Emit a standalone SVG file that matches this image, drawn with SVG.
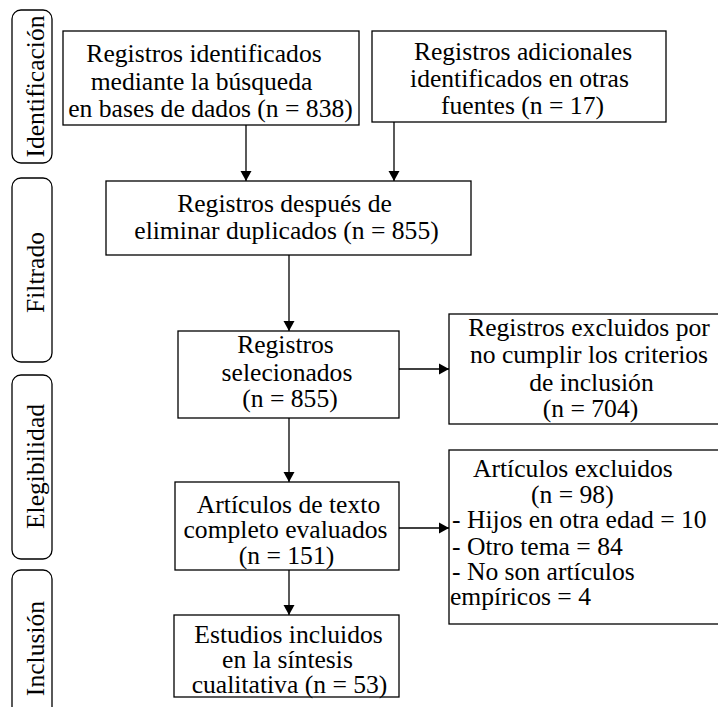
<svg xmlns="http://www.w3.org/2000/svg" width="718" height="707" viewBox="0 0 718 707">
<style>
.bx{fill:#fff;stroke:#000;stroke-width:1.3}
.pill{fill:#fff;stroke:#000;stroke-width:1.3}
text{font-family:'Liberation Serif','DejaVu Serif',serif;font-size:25.6px;fill:#000}
.m{text-anchor:middle}
.c{stroke:#000;stroke-width:1.3;fill:none}
</style>
<defs>
<marker id="ah" markerUnits="userSpaceOnUse" markerWidth="12" markerHeight="12" viewBox="0 0 12 12" refX="11" refY="6" orient="auto">
<path d="M1,0.5 L11,6 L1,11.5 Z" fill="#000"/>
</marker>
</defs>
<rect width="718" height="707" fill="#fff"/>
<g font-family="'Liberation Serif','DejaVu Serif',serif">
<g id="stage-identificacion">
<rect class="pill" x="12" y="10" width="40" height="153" rx="9"/>
<text class="m" transform="translate(44,86.5) rotate(-90)">Identificación</text>
</g>
<g id="stage-filtrado">
<rect class="pill" x="12" y="178" width="40" height="184" rx="9"/>
<text class="m" transform="translate(44,272.5) rotate(-90)">Filtrado</text>
</g>
<g id="stage-elegibilidad">
<rect class="pill" x="12" y="375" width="40" height="184" rx="9"/>
<text class="m" transform="translate(44,466.5) rotate(-90)">Elegibilidad</text>
</g>
<g id="stage-inclusion">
<rect class="pill" x="12" y="570" width="40" height="160" rx="9"/>
<text class="m" transform="translate(44,648.5) rotate(-90)">Inclusión</text>
</g>
<g id="connectors">
<line class="c" x1="246" y1="125" x2="246" y2="181" marker-end="url(#ah)"/>
<line class="c" x1="394" y1="122" x2="394" y2="181" marker-end="url(#ah)"/>
<line class="c" x1="289" y1="255" x2="289" y2="331" marker-end="url(#ah)"/>
<line class="c" x1="399" y1="369" x2="449" y2="369" marker-end="url(#ah)"/>
<line class="c" x1="289" y1="418" x2="289" y2="482" marker-end="url(#ah)"/>
<line class="c" x1="399" y1="528" x2="449" y2="528" marker-end="url(#ah)"/>
<line class="c" x1="289" y1="570" x2="289" y2="615" marker-end="url(#ah)"/>
</g>
<g id="n1">
<rect class="bx" x="63" y="31" width="296" height="94"/>
<text class="m" x="204" y="62">Registros identificados</text>
<text class="m" x="201.5" y="89.5">mediante la búsqueda</text>
<text class="m" x="210.5" y="116.5">en bases de dados (n = 838)</text>
</g>
<g id="n2">
<rect class="bx" x="372" y="31" width="294" height="91"/>
<text class="m" x="523" y="60">Registros adicionales</text>
<text class="m" x="519.5" y="87">identificados en otras</text>
<text class="m" x="522.5" y="114">fuentes (n = 17)</text>
</g>
<g id="n3">
<rect class="bx" x="106" y="181" width="365" height="74"/>
<text class="m" x="284.5" y="211.5">Registros después de</text>
<text class="m" x="286.5" y="239">eliminar duplicados (n = 855)</text>
</g>
<g id="n4">
<rect class="bx" x="178" y="331" width="221" height="87"/>
<text class="m" x="285.5" y="353">Registros</text>
<text class="m" x="287" y="380.5">selecionados</text>
<text class="m" x="290" y="407">(n = 855)</text>
</g>
<g id="n5">
<rect class="bx" x="449" y="314" width="280" height="110"/>
<text class="m" x="589" y="336">Registros excluidos por</text>
<text class="m" x="589" y="363">no cumplir los criterios</text>
<text class="m" x="591.5" y="391">de inclusión</text>
<text class="m" x="590.5" y="417">(n = 704)</text>
</g>
<g id="n6">
<rect class="bx" x="175" y="482" width="224" height="88"/>
<text class="m" x="288.5" y="513">Artículos de texto</text>
<text class="m" x="285.5" y="538">completo evaluados</text>
<text class="m" x="286.5" y="563.5">(n = 151)</text>
</g>
<g id="n7">
<rect class="bx" x="174" y="615" width="225" height="82"/>
<text class="m" x="288.5" y="643">Estudios incluidos</text>
<text class="m" x="287.5" y="668">en la síntesis</text>
<text class="m" x="289.5" y="693">cualitativa (n = 53)</text>
</g>
<g id="n8">
<rect class="bx" x="449" y="450" width="280" height="174"/>
<text x="473" y="477">Artículos excluidos</text>
<text x="531" y="503">(n = 98)</text>
<text x="452" y="528">- Hijos en otra edad = 10</text>
<text x="452" y="555">- Otro tema = 84</text>
<text x="452" y="580">- No son artículos</text>
<text x="450" y="605">empíricos = 4</text>
</g>
</g>
</svg>
